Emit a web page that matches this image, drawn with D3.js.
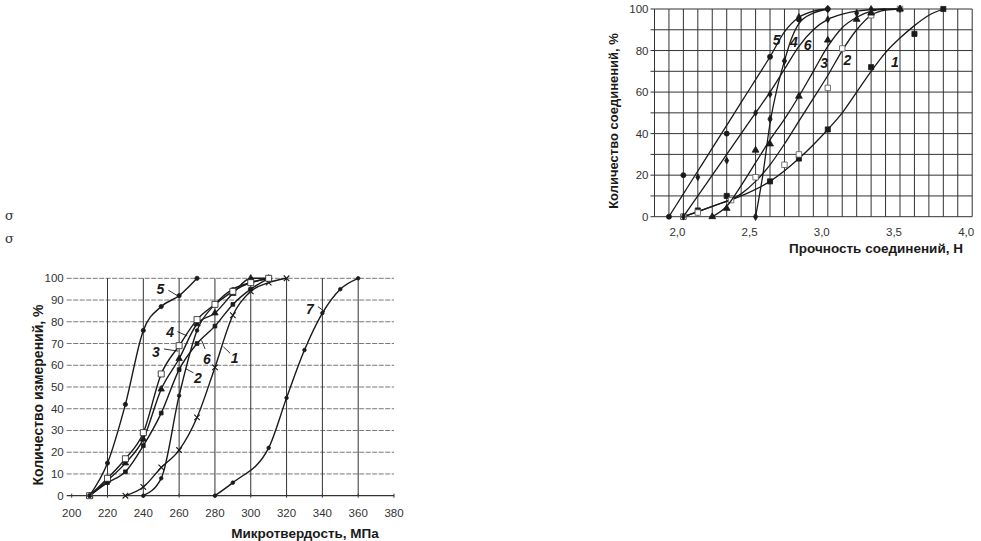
<!DOCTYPE html>
<html><head><meta charset="utf-8">
<script src="https://cdn.jsdelivr.net/npm/d3@7"></script>
<style>body{margin:0;background:#fff}svg{display:block}</style>
</head><body>
<svg id="c" width="981" height="541"></svg>
<script>
// ---------- Left chart: Микротвердость ----------
const leftXTicks = [200,220,240,260,280,300,320,340,360,380];
const leftYTicks = [0,10,20,30,40,50,60,70,80,90,100];
const leftS1 = [[230,0],[240,4],[250,13],[260,21],[270,36],[280,59],[290,83],[300,94],[310,98],[320,100]];
const leftS2 = [[240,0],[250,8],[260,46],[270,76],[280,88],[290,95],[300,98],[310,100]];
const leftS3 = [[210,0],[220,8],[230,17],[240,29],[250,56],[260,69],[270,81],[280,88],[290,94],[300,98],[310,100]];
const leftS4 = [[210,0],[220,7],[230,15],[240,26],[250,49],[260,63],[270,79],[280,84],[290,93],[300,100],[310,100]];
const leftS5 = [[210,0],[220,15],[230,42],[240,76],[250,87],[260,92],[270,100]];
const leftS6 = [[210,0],[220,6],[230,11],[240,23],[250,38],[260,58],[270,70],[280,78],[290,88],[300,95],[310,100]];
const leftS7 = [[280,0],[290,6],[310,22],[320,45],[330,67],[340,84],[350,95],[360,100]];
const leftLabels = [
  {t:"5", x:249.5, y:95, lx1:254, ly1:94.5, lx2:259.5, ly2:91.8},
  {t:"4", x:255, y:75.5, lx1:259, ly1:75.5, lx2:264.5, ly2:73.5},
  {t:"3", x:247, y:66, lx1:251.5, ly1:67.5, lx2:259.5, ly2:66.5},
  {t:"6", x:275.5, y:63, lx1:274.5, ly1:67.5, lx2:272.5, ly2:71.5},
  {t:"2", x:270.5, y:54, lx1:268, ly1:56.5, lx2:263.5, ly2:58.5},
  {t:"1", x:291, y:63.5, lx1:288.5, ly1:65.5, lx2:284.7, ly2:68.5},
  {t:"7", x:333, y:86, lx1:337.5, ly1:87, lx2:341.5, ly2:84.5}
];
const leftXTitle = "Микротвердость, МПа";
const leftYTitle = "Количество измерений, %";

// ---------- Right chart: Прочность ----------
const rightXTicks = [2.0,2.5,3.0,3.5,4.0];
const rightXGrid = [1.8,1.9,2.0,2.1,2.2,2.3,2.4,2.5,2.6,2.7,2.8,2.9,3.0,3.1,3.2,3.3,3.4,3.5,3.6,3.7,3.8,3.9,4.0];
const rightYTicks = [0,20,40,60,80,100];
const rightYGrid = [0,10,20,30,40,50,60,70,80,90,100];
// measured points
const rightS1 = [[2.0,0],[2.1,3],[2.3,10],[2.6,17],[2.8,28],[3.0,42],[3.3,72],[3.6,88],[3.8,100]];
const rightS2 = [[2.0,0],[2.1,2],[2.33,8],[2.5,19],[2.7,25],[2.8,30],[3.0,62],[3.1,81],[3.3,97],[3.5,100]];
const rightS3 = [[2.2,0],[2.3,4],[2.5,32],[2.6,35],[2.8,58],[3.0,85],[3.2,95],[3.3,98],[3.5,100]];
const rightS4 = [[2.5,0],[2.6,47],[2.7,75],[2.8,96],[3.0,100]];
const rightS5 = [[1.9,0],[2.0,20],[2.3,40],[2.6,77],[2.8,95],[3.0,100]];
const rightS6 = [[2.0,0],[2.1,19],[2.3,27],[2.5,50],[2.6,59],[3.0,95],[3.2,98],[3.3,100],[3.5,100]];
// fitted (smoothed) curves
const rightFit1 = [[2.0,0],[2.2,5],[2.4,10],[2.6,17],[2.8,28],[3.0,42],[3.1,50],[3.2,60],[3.3,70],[3.4,79],[3.5,86],[3.6,92],[3.7,97],[3.8,100]];
const rightFit2 = [[2.0,0],[2.2,5],[2.4,11],[2.5,17],[2.6,25],[2.7,35],[2.8,46],[2.9,57],[3.0,68],[3.1,80],[3.2,90],[3.3,97],[3.4,99.5],[3.5,100]];
const rightFit3 = [[2.2,0],[2.3,5],[2.4,15],[2.5,26],[2.6,37],[2.7,47],[2.8,58],[2.9,70],[3.0,82],[3.1,91],[3.2,96],[3.3,99],[3.4,100]];
const rightFit4 = [[2.5,0],[2.55,20],[2.6,45],[2.65,62],[2.7,75],[2.75,86],[2.8,93],[2.9,98],[3.0,100]];
const rightFit5 = [[1.9,0],[2.0,11],[2.1,22],[2.2,33],[2.3,44],[2.4,55],[2.5,66],[2.6,77],[2.7,89],[2.8,96],[2.9,99],[3.0,100]];
const rightFit6 = [[2.0,0],[2.1,10],[2.2,20],[2.3,30],[2.4,40],[2.5,50],[2.6,60],[2.7,71],[2.8,82],[2.9,90],[3.0,95],[3.1,97.5],[3.2,99],[3.4,100],[3.5,100]];
const rightLabels = [
  {t:"5", x:2.645, y:85}, {t:"4", x:2.765, y:84.3}, {t:"6", x:2.86, y:82.7},
  {t:"3", x:2.975, y:74.2}, {t:"2", x:3.135, y:75.4}, {t:"1", x:3.465, y:74.6}
];
const rightXTitle = "Прочность соединений, Н";
const rightYTitle = "Количество соединений, %";

const sigmaMarks = ["σ","σ"];

const svg = d3.select("#c");
const FONT = "'Liberation Sans', Arial, sans-serif";
const INK = "#1a1a1a";

svg.selectAll("text.sig").data(sigmaMarks).join("text")
  .attr("x",5).attr("y",(d,i)=>220+i*22.5)
  .attr("font-family","'DejaVu Serif', serif").attr("font-size",13).attr("fill","#333")
  .text(d=>d);

// ===== Left chart =====
{
  const x = d3.scaleLinear([200,380],[71.7,394]);
  const y = d3.scaleLinear([0,100],[495.7,278.3]);
  const g = svg.append("g");
  g.selectAll("line.h").data(leftYTicks.filter(v=>v>0)).join("line")
    .attr("x1",x(200)-5).attr("x2",x(380)).attr("y1",d=>y(d)).attr("y2",d=>y(d))
    .attr("stroke","#777").attr("stroke-width",1).attr("stroke-dasharray","5,1.5");
  g.selectAll("line.v").data(leftXTicks.filter(v=>v>200 && v<380)).join("line")
    .attr("x1",d=>x(d)).attr("x2",d=>x(d)).attr("y1",y(0)).attr("y2",y(100))
    .attr("stroke","#333").attr("stroke-width",1);
  g.append("line").attr("x1",x(200)-5).attr("x2",x(380)).attr("y1",y(0)).attr("y2",y(0))
    .attr("stroke","#333").attr("stroke-width",1.2);
  g.selectAll("line.xt").data(leftXTicks).join("line")
    .attr("x1",d=>x(d)).attr("x2",d=>x(d)).attr("y1",y(0)-2).attr("y2",y(0)+2)
    .attr("stroke","#333");
  g.selectAll("text.xl").data(leftXTicks).join("text")
    .attr("x",d=>x(d)).attr("y",y(0)+21).attr("text-anchor","middle")
    .attr("font-family",FONT).attr("font-size",11.5).attr("fill","#333").text(d=>d);
  g.selectAll("text.yl").data(leftYTicks).join("text")
    .attr("x",x(200)-8).attr("y",d=>y(d)+4).attr("text-anchor","end")
    .attr("font-family",FONT).attr("font-size",11.5).attr("fill","#333").text(d=>d);
  g.append("text").attr("x",305).attr("y",538).attr("text-anchor","middle")
    .attr("font-family",FONT).attr("font-size",13.5).attr("font-weight","bold").attr("fill",INK).text(leftXTitle);
  g.append("text").attr("transform","translate(43,395) rotate(-90)").attr("text-anchor","middle")
    .attr("font-family",FONT).attr("font-size",14).attr("font-weight","bold").attr("fill",INK).text(leftYTitle);

  const line = d3.line().x(d=>x(d[0])).y(d=>y(d[1])).curve(d3.curveMonotoneX);
  const series = [
    {d:leftS7, sym:d3.symbolCircle, size:10, fill:INK},
    {d:leftS1, sym:d3.symbolTimes, size:22, fill:"none"},
    {d:leftS2, sym:d3.symbolCircle, size:10, fill:INK},
    {d:leftS6, sym:d3.symbolSquare, size:14, fill:INK},
    {d:leftS4, sym:d3.symbolTriangle, size:18, fill:INK},
    {d:leftS3, sym:d3.symbolSquare, size:36, fill:"#fff"},
    {d:leftS5, sym:d3.symbolCircle, size:14, fill:INK}
  ];
  series.forEach(s=>{
    g.append("path").attr("d",line(s.d)).attr("fill","none").attr("stroke",INK).attr("stroke-width",1.4);
    g.selectAll(null).data(s.d).join("path")
      .attr("transform",d=>`translate(${x(d[0])},${y(d[1])})`)
      .attr("d",d3.symbol(s.sym,s.size))
      .attr("fill",s.fill).attr("stroke",INK).attr("stroke-width",s.fill==="none"?1.1:0.8);
  });
  g.selectAll("line.ld").data(leftLabels).join("line")
    .attr("x1",d=>x(d.lx1)).attr("y1",d=>y(d.ly1)).attr("x2",d=>x(d.lx2)).attr("y2",d=>y(d.ly2))
    .attr("stroke",INK).attr("stroke-width",0.9);
  g.selectAll("text.lb").data(leftLabels).join("text")
    .attr("x",d=>x(d.x)).attr("y",d=>y(d.y)+5).attr("text-anchor","middle")
    .attr("font-family",FONT).attr("font-size",14).attr("font-weight","bold").attr("font-style","italic")
    .attr("fill",INK).text(d=>d.t);
}

// ===== Right chart =====
{
  const x = d3.scaleLinear([1.8,4.0],[654.5,972.2]);
  const y = d3.scaleLinear([0,100],[216.7,9]);
  const g = svg.append("g");
  g.selectAll("line.h").data(rightYGrid).join("line")
    .attr("x1",x(1.8)-4).attr("x2",x(4.0)).attr("y1",d=>y(d)).attr("y2",d=>y(d))
    .attr("stroke","#333").attr("stroke-width",1);
  g.selectAll("line.v").data(rightXGrid).join("line")
    .attr("x1",d=>x(d)).attr("x2",d=>x(d)).attr("y1",y(0)).attr("y2",y(100))
    .attr("stroke","#333").attr("stroke-width",1);
  g.selectAll("text.xl").data(rightXTicks).join("text")
    .attr("x",d=>x(d)-6).attr("y",y(0)+19).attr("text-anchor","middle")
    .attr("font-family",FONT).attr("font-size",11.5).attr("fill","#333")
    .text(d=>d.toFixed(1).replace(".",","));
  g.selectAll("text.yl").data(rightYTicks).join("text")
    .attr("x",x(1.8)-6).attr("y",d=>y(d)+4).attr("text-anchor","end")
    .attr("font-family",FONT).attr("font-size",11.5).attr("fill","#333").text(d=>d);
  g.append("text").attr("x",876).attr("y",253).attr("text-anchor","middle")
    .attr("font-family",FONT).attr("font-size",13.5).attr("font-weight","bold").attr("fill",INK).text(rightXTitle);
  g.append("text").attr("transform","translate(618,121) rotate(-90)").attr("text-anchor","middle")
    .attr("font-family",FONT).attr("font-size",13).attr("font-weight","bold").attr("fill",INK).text(rightYTitle);

  const line = d3.line().x(d=>x(d[0])).y(d=>y(d[1])).curve(d3.curveMonotoneX);
  const series = [
    {d:rightS1, f:rightFit1, sym:d3.symbolSquare, size:26, fill:INK},
    {d:rightS2, f:rightFit2, sym:d3.symbolSquare, size:30, fill:"#fff"},
    {d:rightS3, f:rightFit3, sym:d3.symbolTriangle, size:20, fill:INK},
    {d:rightS4, f:rightFit4, sym:d3.symbolDiamond, size:16, fill:INK},
    {d:rightS5, f:rightFit5, sym:d3.symbolCircle, size:20, fill:INK},
    {d:rightS6, f:rightFit6, sym:d3.symbolDiamond, size:14, fill:INK}
  ];
  series.forEach(s=>{
    g.append("path").attr("d",line(s.f)).attr("fill","none").attr("stroke",INK).attr("stroke-width",1.3);
    g.selectAll(null).data(s.d).join("path")
      .attr("transform",d=>`translate(${x(d[0])},${y(d[1])})`)
      .attr("d",d3.symbol(s.sym,s.size))
      .attr("fill",s.fill).attr("stroke",s.fill==="#fff"?"#555":INK).attr("stroke-width",0.8);
  });
  g.selectAll("text.lb").data(rightLabels).join("text")
    .attr("x",d=>x(d.x)).attr("y",d=>y(d.y)+5).attr("text-anchor","middle")
    .attr("font-family",FONT).attr("font-size",14).attr("font-weight","bold").attr("font-style","italic")
    .attr("fill",INK).text(d=>d.t);
}
</script>
</body></html>
